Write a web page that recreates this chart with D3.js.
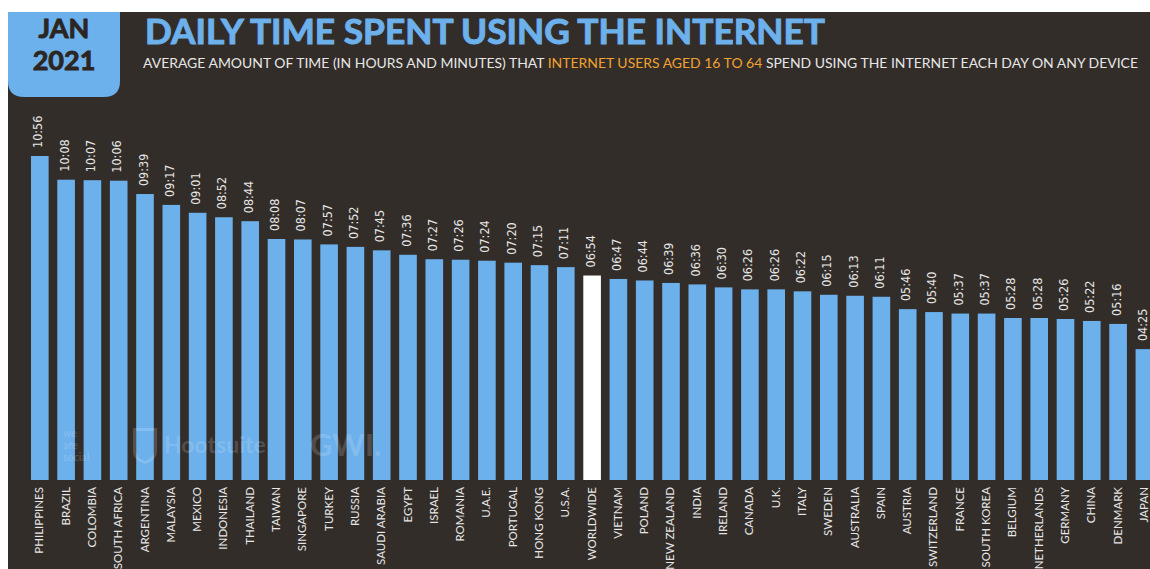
<!DOCTYPE html>
<html>
<head>
<meta charset="utf-8">
<script src="https://cdn.jsdelivr.net/npm/d3@7"></script>
<style>
  html, body { margin: 0; padding: 0; background: #ffffff; }
  svg { display: block; }
</style>
</head>
<body>
<svg id="chart" width="1150" height="569"></svg>
<script>
// Countries, ordered by daily internet time
const countries = [
  "PHILIPPINES", "BRAZIL", "COLOMBIA", "SOUTH AFRICA", "ARGENTINA", "MALAYSIA",
  "MEXICO", "INDONESIA", "THAILAND", "TAIWAN", "SINGAPORE", "TURKEY", "RUSSIA",
  "SAUDI ARABIA", "EGYPT", "ISRAEL", "ROMANIA", "U.A.E.", "PORTUGAL", "HONG KONG",
  "U.S.A.", "WORLDWIDE", "VIETNAM", "POLAND", "NEW ZEALAND", "INDIA", "IRELAND",
  "CANADA", "U.K.", "ITALY", "SWEDEN", "AUSTRALIA", "SPAIN", "AUSTRIA",
  "SWITZERLAND", "FRANCE", "SOUTH KOREA", "BELGIUM", "NETHERLANDS", "GERMANY",
  "CHINA", "DENMARK", "JAPAN"
];

// Average daily time online (hh:mm)
const dailyTime = [
  "10:56", "10:08", "10:07", "10:06", "09:39", "09:17",
  "09:01", "08:52", "08:44", "08:08", "08:07", "07:57", "07:52",
  "07:45", "07:36", "07:27", "07:26", "07:24", "07:20", "07:15",
  "07:11", "06:54", "06:47", "06:44", "06:39", "06:36", "06:30",
  "06:26", "06:26", "06:22", "06:15", "06:13", "06:11", "05:46",
  "05:40", "05:37", "05:37", "05:28", "05:28", "05:26",
  "05:22", "05:16", "04:25"
];

const highlight = "WORLDWIDE";

const toMinutes = s => { const [h, m] = s.split(":").map(Number); return h * 60 + m; };
const data = countries.map((c, i) => ({ country: c, label: dailyTime[i], minutes: toMinutes(dailyTime[i]) }));

const svg = d3.select("#chart");
const W = 1150, H = 569;

const BG = "#332d29";
const BLUE = "#6cb0ec";
const TEXT = "#e6e6e6";
const SANS = "Lato, 'DejaVu Sans', sans-serif";

// page frame
svg.append("rect").attr("width", W).attr("height", H).attr("fill", "#ffffff");
svg.append("rect").attr("x", 8).attr("y", 12).attr("width", W - 8).attr("height", H - 12).attr("fill", BG);

// date badge
const bx0 = 8, by0 = 12, bx1 = 120, by1 = 97, r = 16;
svg.append("path")
  .attr("d", `M${bx0},${by0} H${bx1} V${by1 - r} Q${bx1},${by1} ${bx1 - r},${by1} H${bx0 + r} Q${bx0},${by1} ${bx0},${by1 - r} Z`)
  .attr("fill", BLUE);
["JAN", "2021"].forEach((t, i) => {
  svg.append("text").attr("x", 64).attr("y", 38 + i * 32).attr("text-anchor", "middle")
    .attr("font-family", SANS).attr("font-weight", 700)
    .attr("font-size", 27).attr("fill", "#2b2622")
    .attr("stroke", "#2b2622").attr("stroke-width", 0.9)
    .text(t);
});

// title
svg.append("text").attr("x", 145).attr("y", 44)
  .attr("font-family", SANS).attr("font-weight", 700)
  .attr("font-size", 35).attr("fill", BLUE)
  .attr("stroke", BLUE).attr("stroke-width", 1)
  .attr("textLength", 680).attr("lengthAdjust", "spacingAndGlyphs")
  .text("DAILY TIME SPENT USING THE INTERNET");

// subtitle
const sub = svg.append("text").attr("x", 143).attr("y", 68)
  .attr("font-family", SANS)
  .attr("font-size", 12.5).attr("fill", TEXT)
  .attr("textLength", 995).attr("lengthAdjust", "spacingAndGlyphs");
sub.append("tspan").text("AVERAGE AMOUNT OF TIME (IN HOURS AND MINUTES) THAT ");
sub.append("tspan").attr("fill", "#f0a232").text("INTERNET USERS AGED 16 TO 64");
sub.append("tspan").text(" SPEND USING THE INTERNET EACH DAY ON ANY DEVICE");

// scales
const x = d3.scaleBand()
  .domain(countries)
  .range([31, 1153.2])
  .paddingInner(0.33)
  .paddingOuter(0);

const y = d3.scaleLinear()
  .domain([0, d3.max(data, d => d.minutes)])
  .range([480, 156]);

// bars
svg.append("g").selectAll("rect")
  .data(data)
  .join("rect")
  .attr("x", d => x(d.country))
  .attr("y", d => y(d.minutes))
  .attr("width", x.bandwidth())
  .attr("height", d => y(0) - y(d.minutes))
  .attr("fill", d => d.country === highlight ? "#ffffff" : BLUE);

// watermark logos over the bars
const wm = svg.append("g").attr("fill", "#ffffff").attr("fill-opacity", 0.17)
  .attr("font-family", SANS).attr("font-weight", 700);
["we", "are", "social"].forEach((w, i) => {
  wm.append("text").attr("x", 63).attr("y", 437 + i * 12).attr("font-size", 10.5).text(w);
});
wm.append("path")
  .attr("d", "M133,428 H157 V452 Q157,460 145,464 Q133,460 133,452 Z M136,431 V451 Q136,458 145,461 Q154,458 154,451 V431 Z")
  .attr("fill-rule", "evenodd");
wm.append("text").attr("x", 164).attr("y", 453).attr("font-size", 23).text("Hootsuite");
wm.append("text").attr("x", 310).attr("y", 456).attr("font-size", 31).text("GWI.");

// value labels, just above each bar
svg.append("g").selectAll("text")
  .data(data)
  .join("text")
  .attr("transform", d => `translate(${x(d.country) + x.bandwidth() / 2 - 2},${y(d.minutes) - 8}) rotate(-90)`)
  .attr("dominant-baseline", "central")
  .attr("font-family", "'Liberation Sans Narrow', 'DejaVu Sans Condensed', 'Roboto', sans-serif")
  .attr("font-stretch", "condensed")
  .attr("font-size", 12.5)
  .attr("fill", TEXT)
  .text(d => d.label);

// category labels
const xAxis = d3.axisBottom(x).tickSize(0).tickPadding(0);
const gx = svg.append("g").attr("transform", "translate(0,480)").call(xAxis);
gx.select(".domain").remove();
gx.selectAll(".tick text")
  .attr("transform", "translate(-1,7) rotate(-90)")
  .attr("x", 0).attr("y", 0).attr("dy", 0)
  .attr("dominant-baseline", "central")
  .attr("text-anchor", "end")
  .attr("font-family", SANS)
  .attr("font-size", 11.5)
  .attr("fill", TEXT);
</script>
</body>
</html>
